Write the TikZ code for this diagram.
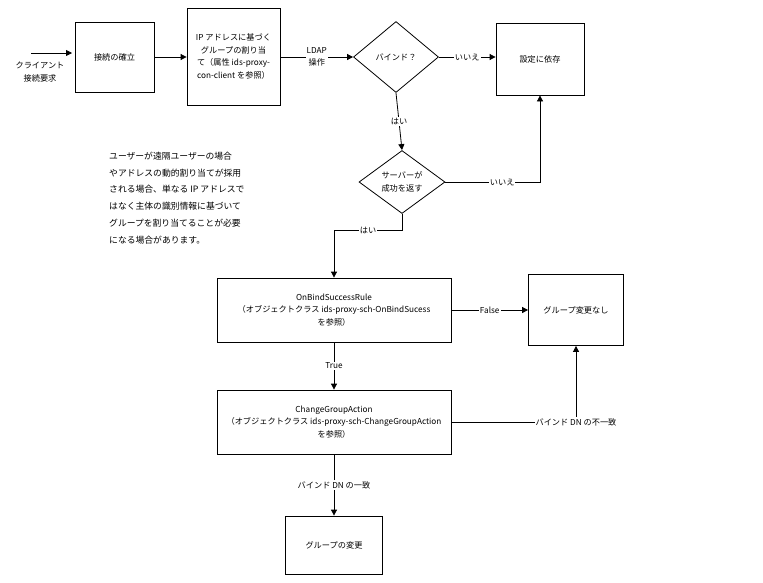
\documentclass[tikz,border=0pt]{standalone}
\usepackage{fontspec}
\setmainfont{Noto Sans CJK JP}
\usetikzlibrary{shapes.geometric,arrows.meta}
\begin{document}
\begin{tikzpicture}[x=1pt,y=-1pt,
  every node/.style={font=\fontsize{8.2}{12.5}\selectfont, align=center, inner sep=1pt},
  box/.style={draw, thick, minimum width=#1, inner sep=2pt},
  dia/.style={draw, thick, diamond, aspect=1.2, inner sep=0pt},
  lbl/.style={fill=white, inner sep=1pt},
  arr/.style={thick, -{Triangle[length=6pt,width=6pt]}},
  ln/.style={thick}]
\useasboundingbox (0,0) rectangle (763,582);
\coordinate (in0) at (31,53);
\coordinate (in1) at (72,53);
\node at (40,72) {クライアント\\接続要求};
\node[box=79pt, minimum height=70pt] (conn) at (114.5,57) {接続の確立};
\node[box=93pt, minimum height=97pt] (ip) at (233.5,56.5) {IP アドレスに基づく\\グループの割り当\\て（属性 ids-proxy-\\con-client を参照）};
\node[dia, minimum width=85pt, minimum height=71pt] (bind) at (396,57) {バインド？};
\node[box=88pt, minimum height=72pt] (dep) at (540,59) {設定に依存};
\node[dia, minimum width=86pt, minimum height=63pt] (srv) at (402,182) {サーバーが\\成功を返す};
\node[align=left, anchor=west, font=\fontsize{8.8}{16.8}\selectfont] (note) at (108,198) {ユーザーが遠隔ユーザーの場合\\やアドレスの動的割り当てが採用\\される場合、単なる IP アドレスで\\はなく主体の識別情報に基づいて\\グループを割り当てることが必要\\になる場合があります。};
\node[box=234pt, minimum height=64pt] (rule) at (334,310) {OnBindSuccessRule\\（オブジェクトクラス ids-proxy-sch-OnBindSucess\\を参照）};
\node[box=95pt, minimum height=71pt] (none) at (576,310) {グループ変更なし};
\node[box=234pt, minimum height=64pt] (cg) at (334,422) {ChangeGroupAction\\（オブジェクトクラス ids-proxy-sch-ChangeGroupAction\\を参照）};
\node[box=97pt, minimum height=58pt] (chg) at (334,545) {グループの変更};
\draw[arr] (in0) -- (in1);
\draw[arr] (conn) -- (conn -| ip.west);
\draw[arr] (ip.east |- bind) -- node[lbl]{LDAP\\操作} (bind.west);
\draw[arr] (bind.east) -- node[lbl]{いいえ} (bind.east -| dep.west);
\draw[arr] (bind.south) -- node[lbl]{はい} (srv.north);
\draw[arr] (srv.east) -- node[lbl, pos=0.6]{いいえ} (srv.east -| dep.south) -- (dep.south);
\coordinate (k1) at (402,230);
\coordinate (k2) at (334,230);
\draw[arr] (srv.south) -- (k1) -- node[lbl]{はい} (k2) -- (rule.north);
\draw[arr] (rule.east) -- node[lbl]{False} (none.west);
\draw[arr] (rule.south) -- node[lbl]{True} (cg.north);
\draw[arr] (cg.east) -- (cg.east -| none.south) node[lbl]{バインド DN の不一致} -- (none.south);
\draw[arr] (cg.south) -- node[lbl]{バインド DN の一致} (chg.north);
\end{tikzpicture}
\end{document}
